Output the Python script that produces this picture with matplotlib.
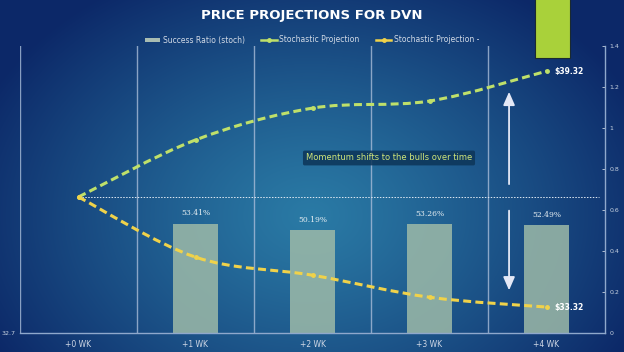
import numpy as np
import matplotlib
matplotlib.use("Agg")
import matplotlib.pyplot as plt
from matplotlib.path import Path
from matplotlib.patches import PathPatch, Rectangle, Patch
from matplotlib.lines import Line2D

# ---- data ----
categories = ["+0 WK", "+1 WK", "+2 WK", "+3 WK", "+4 WK"]
success_ratio = [None, 0.5341, 0.5019, 0.5326, 0.5249]
bar_labels = ["", "53.41%", "50.19%", "53.26%", "52.49%"]
proj_up = [36.12, 37.57, 38.38, 38.56, 39.32]
proj_down = [36.12, 34.59, 34.13, 33.57, 33.32]
current_price = 36.12
price_min, price_max = 32.66, 39.96
ratio_ticks = [0, 0.2, 0.4, 0.6, 0.8, 1.0, 1.2, 1.4]
ratio_tick_labels = ["0", "0.2", "0.4", "0.6", "0.8", "1", "1.2", "1.4"]
up_label = "$39.32"
down_label = "$33.32"

W, H = 624, 352
fig = plt.figure(figsize=(W / 100, H / 100), dpi=100)

# background gradient
bg = fig.add_axes([0, 0, 1, 1], zorder=-10)
yy, xx = np.mgrid[0:H, 0:W]
d = np.sqrt(((xx - 310) / 360.0) ** 2 + ((yy - 215) / 270.0) ** 2)
d = np.clip(d, 0, 1) ** 1.2
c_center = np.array([42, 122, 165]) / 255
c_edge = np.array([12, 40, 104]) / 255
img = c_center[None, None, :] * (1 - d[..., None]) + c_edge[None, None, :] * d[..., None]
bg.imshow(img, extent=[0, W, H, 0], aspect="auto")
bg.set_xlim(0, W); bg.set_ylim(H, 0)
bg.axis("off")

left, right, top, bottom = 20, 605, 46, 333
ax = fig.add_axes([left / W, 1 - bottom / H, (right - left) / W, (bottom - top) / H])
ax.set_facecolor("none")
x = np.arange(len(categories))
ax2 = ax.twinx()

# bars (right scale)
bx = [i for i, v in enumerate(success_ratio) if v is not None]
bv = [v for v in success_ratio if v is not None]
ax.bar(bx, bv, width=0.39, color="#9dbaa8", alpha=0.85, zorder=2)
for i, v in zip(bx, bv):
    ax.text(i, v + 0.03, bar_labels[i], ha="center", va="bottom", fontsize=5.5,
            color="#e6eef2", family="DejaVu Serif")
ax.set_xlim(-0.5, len(categories) - 0.5)
ax.set_ylim(0, 1.4)
ax.yaxis.tick_right()
ax.set_yticks(ratio_ticks)
ax.set_yticklabels(ratio_tick_labels)
ax.tick_params(axis="y", direction="in", length=2, width=0.6, colors="#c8d2e0",
               labelsize=4.5, pad=3)
ax.set_xticks(x)
ax.set_xticklabels(categories)
ax.tick_params(axis="x", length=0, colors="#d0d8e6", labelsize=5.5, pad=5)
for s in ["top", "left"]:
    ax.spines[s].set_visible(False)
for s in ["bottom", "right"]:
    ax.spines[s].set_color("#8fa8cc")
    ax.spines[s].set_linewidth(1)
for gx in np.arange(-0.5, len(categories) - 0.5, 1.0):
    ax.axvline(gx, color="#a8bcd8", lw=1, alpha=0.8, zorder=1)

# price axis (left)
ax2.set_ylim(price_min, price_max)
ax2.yaxis.tick_left()
ax2.set_yticks([price_min])
ax2.set_yticklabels(["32.7"])
ax2.tick_params(axis="y", length=0, colors="#c8d2e0", labelsize=4.5, pad=3)
for s in ax2.spines.values():
    s.set_visible(False)

ax2.hlines(current_price, 0, 4.45, colors="#dfe8f2", linestyles=(0, (1.5, 1.5)), lw=0.7, zorder=3)


def smooth_path(xs, ys):
    pts = np.column_stack([xs, ys]).astype(float)
    n = len(pts)
    verts = [pts[0]]
    codes = [Path.MOVETO]
    for i in range(n - 1):
        p0 = pts[i - 1] if i > 0 else pts[i]
        p1 = pts[i]
        p2 = pts[i + 1]
        p3 = pts[i + 2] if i + 2 < n else pts[i + 1]
        c1 = p1 + (p2 - p0) / 6.0
        c2 = p2 - (p3 - p1) / 6.0
        verts += [c1, c2, p2]
        codes += [Path.CURVE4] * 3
    return Path(verts, codes)


green = "#bfe06a"
yellow = "#f0d24a"
for ys, col in [(proj_up, green), (proj_down, yellow)]:
    pp = PathPatch(smooth_path(x, ys), facecolor="none", edgecolor=col, lw=2.2,
                   linestyle=(0, (2.6, 1.4)), zorder=5, capstyle="butt")
    ax2.add_patch(pp)
    ax2.plot(x, ys, linestyle="none", marker="o", ms=2.5, color=col, zorder=6)

ax2.text(4.07, proj_up[-1], up_label, fontsize=5.5, fontweight="bold", color="white",
         va="center", ha="left", zorder=7)
ax2.text(4.07, proj_down[-1], down_label, fontsize=5.5, fontweight="bold", color="white",
         va="center", ha="left", zorder=7)

# arrows
ax2.annotate("", xy=(0.836, 0.850), xytext=(0.836, 0.509), xycoords="axes fraction",
             arrowprops=dict(arrowstyle="-|>,head_width=0.35,head_length=0.8",
                             color="#e4e8f6", lw=1.3), zorder=7)
ax2.annotate("", xy=(0.836, 0.139), xytext=(0.836, 0.436), xycoords="axes fraction",
             arrowprops=dict(arrowstyle="-|>,head_width=0.35,head_length=0.8",
                             color="#e4e8f6", lw=1.3), zorder=7)

# annotation box
fig.text(389 / W, 1 - 158 / H, "Momentum shifts to the bulls over time", fontsize=6,
         color="#cfe57a", ha="center", va="center",
         bbox=dict(boxstyle="round,pad=0.35,rounding_size=0.2", fc="#0d3558", ec="none", alpha=0.85),
         zorder=8)

# title
fig.text(0.5, 1 - 16 / H, "PRICE PROJECTIONS FOR DVN", fontsize=9.5, fontweight="bold",
         color="white", ha="center", va="center")

# legend
handles = [Patch(facecolor="#a8bcb2", edgecolor="none"),
           Line2D([0], [0], color=green, lw=1.8, marker="o", ms=2.5),
           Line2D([0], [0], color=yellow, lw=1.8, marker="o", ms=2.5)]
labels = ["Success Ratio (stoch)", "Stochastic Projection", "Stochastic Projection -"]
leg = fig.legend(handles, labels, loc="center", bbox_to_anchor=(0.5, 1 - 40 / H), ncol=3,
                 frameon=False, fontsize=5.5, handlelength=2.0, handleheight=0.5,
                 columnspacing=2.2, handletextpad=0.3)
for t in leg.get_texts():
    t.set_color("#d2dae6")

# decorative green block
fig.patches.append(Rectangle((535 / W, 1 - 58 / H), 35 / W, 60 / H, transform=fig.transFigure,
                             facecolor="#a9d13a", edgecolor="#1a2a30", lw=0.8, zorder=9))

fig.savefig("out.png", dpi=100)
